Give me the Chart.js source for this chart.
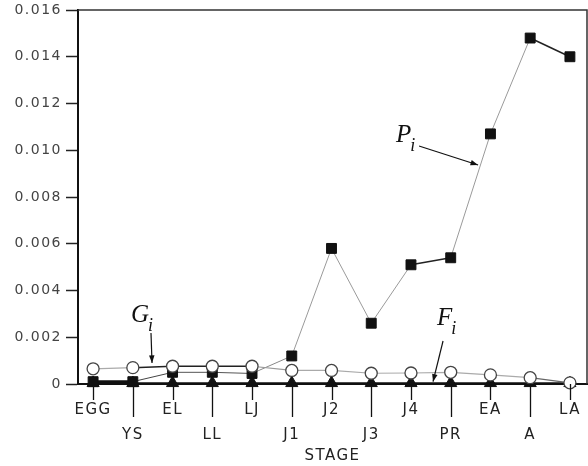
<!DOCTYPE html>
<html>
<head>
<meta charset="utf-8">
<script src="https://cdn.jsdelivr.net/npm/chart.js@4/dist/chart.umd.min.js"></script>
<style>
html,body{margin:0;padding:0;background:#fff;}
#c{display:block;}
</style>
</head>
<body>
<canvas id="c" width="588" height="466"></canvas>
<script>
// ---- data ----
const stages = ['EGG','YS','EL','LL','LJ','J1','J2','J3','J4','PR','EA','A','LA'];
const P_values = [0.0001, 0.0001, 0.0005, 0.0005, 0.00045, 0.0012, 0.0058, 0.0026, 0.0051, 0.0054, 0.0107, 0.0148, 0.0140];
const G_values = [0.00065, 0.0007, 0.00076, 0.00076, 0.00076, 0.00058, 0.00058, 0.00046, 0.00047, 0.0005, 0.00039, 0.00027, 0.00005];
const F_values = [0.00004, 0.00004, 0.00004, 0.00004, 0.00004, 0.00004, 0.00004, 0.00004, 0.00004, 0.00004, 0.00004, 0.00004, 0.00004];
const yTicks = [0, 0.002, 0.004, 0.006, 0.008, 0.010, 0.012, 0.014, 0.016];
const xTitle = 'STAGE';
// annotation anchors in data units (stage index, value)
const annotations = [
  {main:'P', sub:'i', x:7.62, y:0.01035, from:[8.203,0.01018], to:[9.688,0.00937]},
  {main:'G', sub:'i', x:0.954, y:0.00265, from:[1.457,0.00218], to:[1.483,0.00090]},
  {main:'F', sub:'i', x:8.656, y:0.00252, from:[8.807,0.00184], to:[8.555,0.00010]}
];

// ---- styles (separate from data) ----
const pSegColor = ['#111','#444','#555','#555','#888','#9a9a9a','#9a9a9a','#9a9a9a','#222','#9a9a9a','#9a9a9a','#222'];
const pSegWidth = [3,1,1,1,1,1,1,1,1.5,1,1,1.5];
const gSegColor = ['#aaa','#222','#222','#222','#999','#aaa','#aaa','#aaa','#aaa','#aaa','#aaa','#666'];
const gSegWidth = [1.2,1.5,1.5,1.5,1.2,1.2,1.2,1.2,1.2,1.2,1.2,1.2];

const toXY = arr => arr.map((v,i)=>({x:i,y:v}));

const frameAndTicks = {
  id:'frameAndTicks',
  beforeDraw(chart){ chart.ctx.letterSpacing = '1.5px'; },
  afterDraw(chart){
    const ctx = chart.ctx, a = chart.chartArea, xs = chart.scales.x;
    ctx.save();
    ctx.letterSpacing = '0px';
    // top and right frame
    ctx.strokeStyle = '#333'; ctx.lineWidth = 1.5;
    ctx.beginPath();
    ctx.moveTo(a.left, a.top); ctx.lineTo(a.right, a.top); ctx.lineTo(a.right, a.bottom);
    ctx.stroke();
    // x tick marks (alternating lengths)
    ctx.strokeStyle = '#111'; ctx.lineWidth = 1.3;
    stages.forEach((s,i)=>{
      const px = Math.round(xs.getPixelForValue(i)) + 0.5;
      ctx.beginPath();
      ctx.moveTo(px, a.bottom);
      ctx.lineTo(px, a.bottom + (i % 2 ? 33 : 16));
      ctx.stroke();
    });
    ctx.restore();
  },
  afterDatasetsDraw(chart){
    const ctx = chart.ctx, xs = chart.scales.x, ys = chart.scales.y;
    ctx.save();
    ctx.letterSpacing = '0px';
    ctx.fillStyle = '#111'; ctx.strokeStyle = '#111';
    annotations.forEach(an=>{
      const tx = xs.getPixelForValue(an.x), ty = ys.getPixelForValue(an.y);
      ctx.font = 'italic 25px "Liberation Serif", "DejaVu Serif", serif';
      ctx.textBaseline = 'alphabetic'; ctx.textAlign = 'left';
      ctx.fillText(an.main, tx, ty);
      const w = ctx.measureText(an.main).width;
      ctx.font = 'italic 18px "Liberation Serif", "DejaVu Serif", serif';
      ctx.fillText(an.sub, tx + w - 1, ty + 9);
      // arrow
      const x1 = xs.getPixelForValue(an.from[0]), y1 = ys.getPixelForValue(an.from[1]);
      const x2 = xs.getPixelForValue(an.to[0]), y2 = ys.getPixelForValue(an.to[1]);
      ctx.lineWidth = 1.2;
      ctx.beginPath(); ctx.moveTo(x1,y1); ctx.lineTo(x2,y2); ctx.stroke();
      const ang = Math.atan2(y2-y1, x2-x1), L = 8, W = 0.35;
      ctx.beginPath();
      ctx.moveTo(x2,y2);
      ctx.lineTo(x2 - L*Math.cos(ang-W), y2 - L*Math.sin(ang-W));
      ctx.lineTo(x2 - L*Math.cos(ang+W), y2 - L*Math.sin(ang+W));
      ctx.closePath(); ctx.fill();
    });
    ctx.restore();
  }
};

new Chart(document.getElementById('c'), {
  type:'line',
  data:{
    datasets:[
      {
        label:'G', data:toXY(G_values), order:1, clip:false,
        pointStyle:'circle', pointRadius:6, pointBackgroundColor:'#fff',
        pointBorderColor:'#444', pointBorderWidth:1.3,
        borderColor:'#aaa', borderWidth:1.2,
        segment:{
          borderColor: c => gSegColor[c.p0DataIndex],
          borderWidth: c => gSegWidth[c.p0DataIndex]
        }
      },
      {
        label:'P', data:toXY(P_values), order:2, clip:false,
        pointStyle:'rect', pointRadius:7, pointBackgroundColor:'#111',
        pointBorderColor:'#111', pointBorderWidth:1,
        borderColor:'#999', borderWidth:1,
        segment:{
          borderColor: c => pSegColor[c.p0DataIndex],
          borderWidth: c => pSegWidth[c.p0DataIndex]
        }
      },
      {
        label:'F', data:toXY(F_values), order:3, clip:false,
        pointStyle:'triangle', pointRadius:7, pointBackgroundColor:'#111',
        pointBorderColor:'#111', pointBorderWidth:1,
        borderColor:'#111', borderWidth:1.5
      }
    ]
  },
  options:{
    responsive:false, animation:false, devicePixelRatio:1,
    layout:{autoPadding:false, padding:{top:10,right:1,left:0,bottom:0}},
    plugins:{legend:{display:false}, tooltip:{enabled:false}},
    scales:{
      x:{
        type:'linear', min:-0.38, max:12.43,
        afterBuildTicks: s => { s.ticks = stages.map((_,i)=>({value:i})); },
        afterFit: s => { s.height = 82; s.paddingLeft = 0; s.paddingRight = 0; },
        grid:{display:false, drawTicks:false},
        border:{display:true, color:'#111', width:2},
        ticks:{
          autoSkip:false, maxRotation:0, padding:14,
          color:'#222',
          font:{family:'"DejaVu Sans", sans-serif', size:15, lineHeight:25/15},
          callback: v => (v % 2 === 0) ? stages[v] : ['', stages[v]]
        },
        title:{display:true, text:xTitle, color:'#222',
          font:{family:'"DejaVu Sans", sans-serif', size:15, lineHeight:1.2},
          padding:{top:0,bottom:1}}
      },
      y:{
        min:0, max:0.016,
        afterBuildTicks: s => { s.ticks = yTicks.map(v=>({value:v})); },
        afterFit: s => { s.width = 78; s.paddingTop = 0; s.paddingBottom = 0; },
        grid:{display:true, drawOnChartArea:false, drawTicks:true, tickLength:12, tickColor:'#222', tickWidth:1.5},
        border:{display:true, color:'#111', width:2},
        ticks:{
          padding:4, color:'#444',
          font:{family:'"DejaVu Sans", sans-serif', size:14},
          callback: v => v === 0 ? '0' : v.toFixed(3)
        }
      }
    }
  },
  plugins:[frameAndTicks]
});
</script>
</body>
</html>
